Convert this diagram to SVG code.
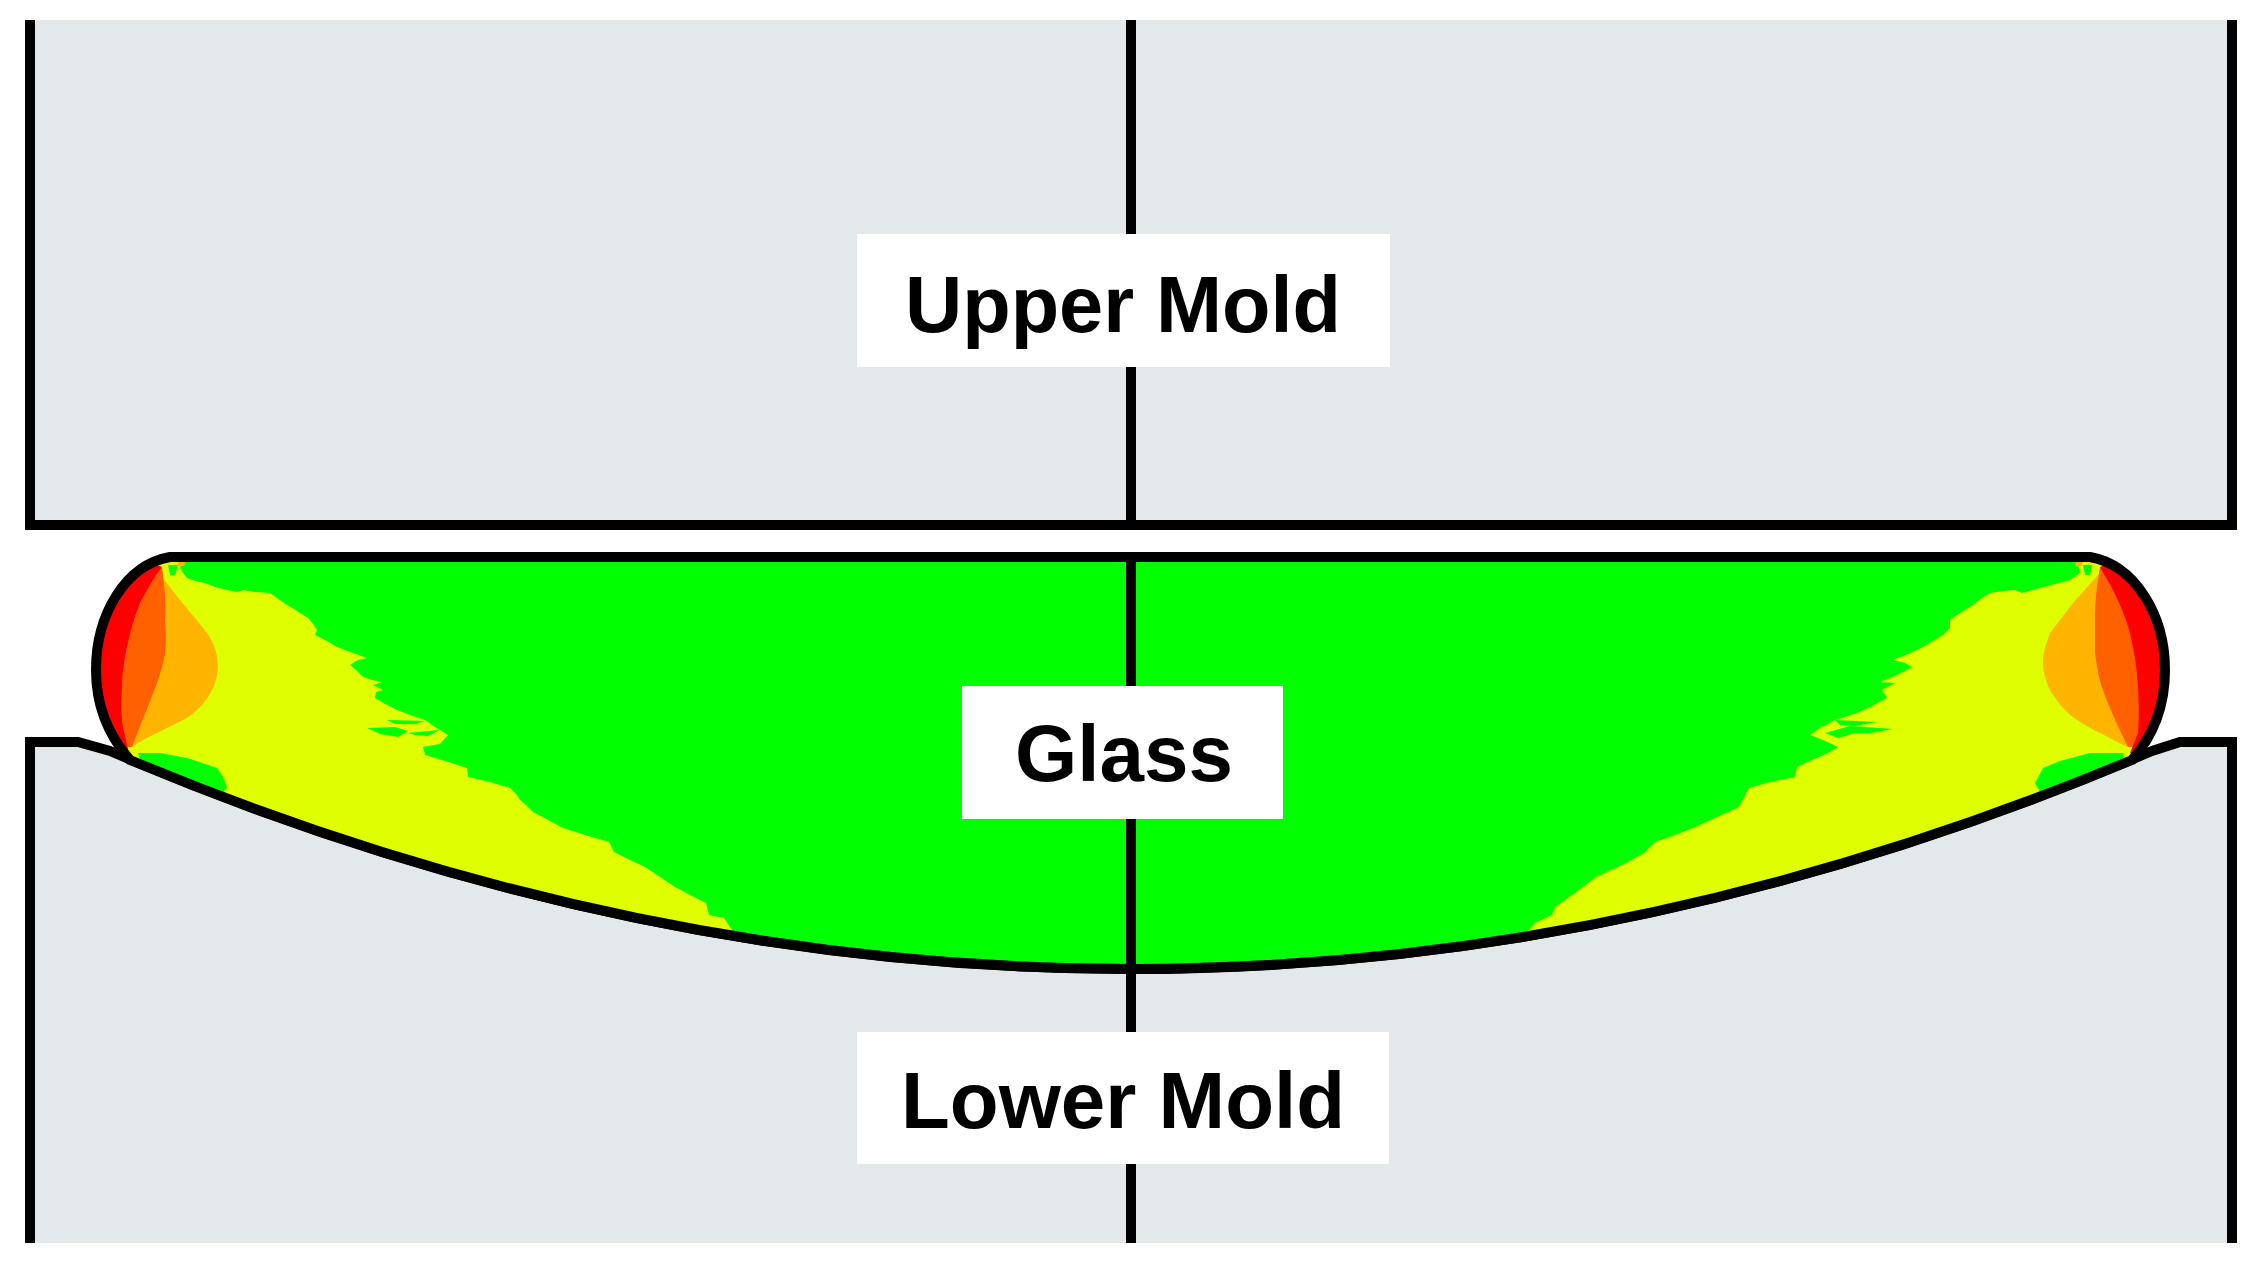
<svg xmlns="http://www.w3.org/2000/svg" width="2257" height="1264" viewBox="0 0 2257 1264">
<style>
.ln{fill:none;stroke:#000;stroke-width:10;stroke-linejoin:miter}
.mold{fill:#e3e8eb}
.lab{fill:#fff}
.t{font-family:"Liberation Sans",Arial,sans-serif;font-weight:700;font-size:80px;fill:#000}
.g{fill:#00ff00}.y{fill:#dfff00}.o{fill:#ffb400}.d{fill:#ff6000}.r{fill:#ff0000}
</style>
<defs>
<clipPath id="gc"><path d="M170,557 L2090,557 C2135,565 2165,615 2165,670 C2165,705 2154,735 2132,760 Q1131,1178 130,760 C108,735 96,705 96,670 C96,615 125,565 170,557Z"/></clipPath>
</defs>
<rect width="2257" height="1264" fill="#fff"/>
<g id="upper-mold">
<rect class="mold" x="30" y="20" width="2202" height="505"/>
<path class="ln" d="M30,20 V525 H2232 V20"/>
</g>
<g id="lower-mold">
<path class="mold" d="M30,1243 V742 H78 L110,751 Q1131,1187 2152,751 L2180,742 H2232 V1243Z"/>
<path class="ln" d="M30,1243 V742 H78 L110,751 Q1131,1187 2152,751 L2180,742 H2232 V1243"/>
</g>
<g id="glass">
<g clip-path="url(#gc)">
<rect class="g" x="90" y="550" width="2080" height="430"/>
<path class="y" d="M90,550 H185 L180,568 L183,573 L187,578 L195,581 L205,583 L215,587 L227,590 L237,592 L243,590 L255,592 L270,593 L277,598 L287,605 L297,611 L308,618 L313,624 L317,630 L315,635 L325,640 L337,647 L350,652 L367,658 L358,660 L350,665 L356,670 L363,677 L372,680 L382,682 L373,685 L383,690 L376,692 L375,698 L385,704 L397,710 L410,715 L425,720 L435,727 L448,735 L440,744 L423,747 L425,755 L445,761 L467,768 L468,777 L490,782 L510,788 L516,794 L520,800 L527,806 L533,812 L548,820 L563,828 L585,835 L609,842 L614,852 L630,860 L645,867 L660,877 L675,887 L690,895 L706,903 L709,915 L724,918 L734,933 L740,960 L90,800Z"/>
<path class="y" d="M2170,550 H2075 L2080,573 L2070,580 L2055,584 L2040,588 L2022,593 L2015,590 L2003,591 L1990,593 L1982,598 L1973,605 L1960,613 L1950,620 L1950,628 L1943,635 L1933,641 L1923,647 L1908,654 L1893,660 L1905,663 L1912,667 L1905,671 L1897,675 L1880,682 L1895,683 L1882,690 L1887,698 L1872,706 L1857,713 L1845,717 L1835,720 L1820,728 L1810,735 L1823,740 L1838,747 L1828,753 L1812,760 L1797,767 L1795,777 L1770,782 L1749,788 L1739,807 L1715,818 L1693,828 L1675,835 L1655,842 L1644,853 L1628,862 L1611,870 L1596,877 L1575,893 L1555,907 L1552,915 L1535,923 L1527,933 L1520,960 L2170,800Z"/>
<path class="g" d="M138,753 L160,753 L187,758 L217,768 L223,777 L227,787 L222,795 L180,775 L140,760Z"/>
<path class="g" d="M2123,753 L2090,753 L2060,761 L2043,768 L2035,783 L2040,792 L2080,782 L2125,762Z"/>
<path class="g" d="M168,565 L178,565 L175,575 L170,575Z"/>
<path class="g" d="M2083,565 L2092,565 L2090,575 L2085,575Z"/>
<path class="o" d="M178,560 L186,560 L184,566 L178,566Z"/>
<path class="o" d="M2075,560 L2083,560 L2082,566 L2076,566Z"/>
<path class="g" d="M387,720 L425,721 L415,724 L395,724Z"/>
<path class="g" d="M367,728 L395,727 L408,731 L398,737 L380,734Z"/>
<path class="g" d="M408,733 L440,730 L428,736 L415,735Z"/>
<path class="g" d="M1835,720 L1877,722 L1855,726 L1840,725Z"/>
<path class="g" d="M1825,733 L1850,726 L1893,729 L1870,733 L1855,733 L1838,738Z"/>
<path class="o" d="M160,573 C172,592 195,617 207,633 C214,642 218,655 218,667 C218,680 210,698 200,707 C190,718 177,723 177,723 C160,732 145,738 132,747 L100,700 L130,570Z"/>
<path class="o" d="M2098,575 L2073,603 L2050,633 C2046,645 2043,652 2043,662 C2043,672 2046,682 2050,690 C2058,703 2065,711 2073,717 C2082,724 2090,728 2100,733 L2127,747 L2160,700 L2130,570Z"/>
<path class="d" d="M162,567 C165,590 166,605 165,620 C166,635 166,645 165,653 C162,675 150,700 132,747 L110,748 L90,690 L120,580Z"/>
<path class="d" d="M2100,567 C2096,590 2095,605 2095,620 L2095,653 C2097,668 2099,680 2103,690 C2112,715 2120,730 2128,747 L2150,748 L2175,690 L2130,570Z"/>
<path class="r" d="M162,567 C152,580 146,592 140,603 C134,618 130,632 127,647 C124,660 122,675 122,687 C121,703 121,716 123,727 L128,749 L95,760 L85,660 L130,555Z"/>
<path class="r" d="M2100,567 C2104,575 2109,582 2113,590 C2120,604 2126,618 2130,633 C2134,650 2137,668 2138,687 C2139,705 2139,720 2138,733 L2130,753 L2150,760 L2180,680 L2130,555Z"/>
</g>
<path class="ln" d="M170,557 L2090,557 C2135,565 2165,615 2165,670 C2165,705 2154,735 2132,760 Q1131,1178 130,760 C108,735 96,705 96,670 C96,615 125,565 170,557Z"/>
</g>
<g id="connectors">
<line class="ln" x1="1131" y1="20" x2="1131" y2="525"/>
<line class="ln" x1="1131" y1="557" x2="1131" y2="1243"/>
</g>
<g id="label-upper"><rect class="lab" x="857" y="234" width="533" height="133"/><text class="t" x="905" y="332" textLength="436" lengthAdjust="spacingAndGlyphs">Upper Mold</text></g>
<g id="label-glass"><rect class="lab" x="962" y="686" width="321" height="133"/><text class="t" x="1015" y="781">Glass</text></g>
<g id="label-lower"><rect class="lab" x="857" y="1032" width="532" height="132"/><text class="t" x="901" y="1128" textLength="444" lengthAdjust="spacingAndGlyphs">Lower Mold</text></g>
</svg>
